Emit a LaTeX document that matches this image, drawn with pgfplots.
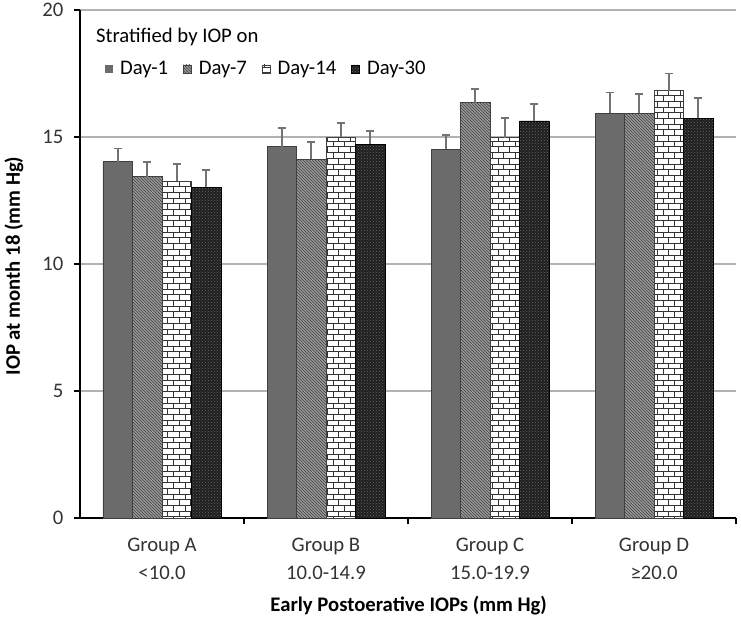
\documentclass[border=0pt]{standalone}
\usepackage{pgfplots}
\pgfplotsset{compat=1.18}
\usepackage{pgfplotstable}
\usepackage{fontspec}
\setmainfont{Carlito}
\usetikzlibrary{patterns}

\pgfplotsset{/pgfplots/ybar legend/.style={/pgfplots/legend image code/.code={\fill[##1, draw=none] (0pt,-4pt) rectangle (8pt,4pt); \path[draw=none,fill=none] (15pt,0pt);}}}

\pgfplotstableread{
x y e
0 14.03 0.52
1 14.62 0.75
2 14.51 0.57
3 15.93 0.82
}\dayone
\pgfplotstableread{
x y e
0 13.43 0.60
1 14.13 0.66
2 16.35 0.54
3 15.93 0.75
}\dayseven
\pgfplotstableread{
x y e
0 13.27 0.67
1 14.99 0.57
2 14.97 0.79
3 16.82 0.68
}\dayfourteen
\pgfplotstableread{
x y e
0 13.03 0.67
1 14.72 0.52
2 15.63 0.67
3 15.74 0.78
}\daythirty

\begin{document}
\begin{tikzpicture}[font=\fontsize{20.7}{24}\selectfont]
\useasboundingbox (-80pt,-104pt) rectangle (661pt,518pt);
\begin{axis}[
  width=656pt, height=508pt, scale only axis,
  xmin=-0.5, xmax=3.5, ymin=0, ymax=20,
  ytick={0,5,10,15,20},
  ymajorgrids, grid style={black!30, line width=1.5pt},
  axis lines*=left,
  axis line style={black, line width=1.6pt},
  xtick={0,1,2,3},
  xticklabels={{Group A\\<10.0},{Group B\\10.0-14.9},{Group C\\15.0-19.9},{Group D\\≥20.0}},
  xticklabel style={align=center, font=\fontsize{20.7}{27.5}\selectfont, text=black!80, yshift=-11pt},
  yticklabel style={font=\fontsize{20.7}{24}\selectfont, text=black!80, xshift=-7pt},
  major x tick style={draw=none},
  minor xtick={0.5,1.5,2.5,3.5},
  tick align=outside,
  major tick length=6pt, minor tick length=6pt,
  tick style={black, line width=1.4pt},
  /pgf/number format/assume math mode=true,
  ybar=0pt, bar width=29.5pt,
  legend columns=-1,
  legend style={at={(rel axis cs:0.038,0.884)}, anchor=west, draw=none, fill=none,
    font=\fontsize{20.7}{24}\selectfont, inner sep=0pt, nodes={inner sep=0pt},
    /tikz/every even column/.append style={column sep=15pt}},
  legend cell align=left,
  error bars/y dir=plus, error bars/y explicit,
  error bars/error bar style={line width=1.8pt, black!55},
  error bars/error mark options={rotate=90, mark size=4pt, line width=1.8pt, black!55},
]
\addplot[fill=black!58, draw=black!75, line width=0.8pt] table[x=x, y=y, y error=e]{\dayone};
\addplot[fill=black!40, draw=black!75, line width=0.8pt,
  postaction={pattern=north west lines, pattern color=black!75}] table[x=x, y=y, y error=e]{\dayseven};
\addplot[fill=white, draw=black!75, line width=0.8pt,
  postaction={pattern=bricks, pattern color=black!80}] table[x=x, y=y, y error=e]{\dayfourteen};
\addplot[fill=black!88, draw=black, line width=0.8pt,
  postaction={pattern=crosshatch dots, pattern color=black!60}] table[x=x, y=y, y error=e]{\daythirty};
\legend{Day-1, Day-7, Day-14, Day-30}
\node[anchor=base west, inner sep=0pt] at (rel axis cs:0.0244,0.9356) {Stratified by IOP on};
\end{axis}
\node[rotate=90, font=\bfseries\fontsize{20.7}{24}\selectfont] at (-66pt,252pt) {IOP at month 18 (mm Hg)};
\node[font=\bfseries\fontsize{20.7}{24}\selectfont] at (328.7pt,-88pt) {Early Postoerative IOPs (mm Hg)};
\end{tikzpicture}
\end{document}
